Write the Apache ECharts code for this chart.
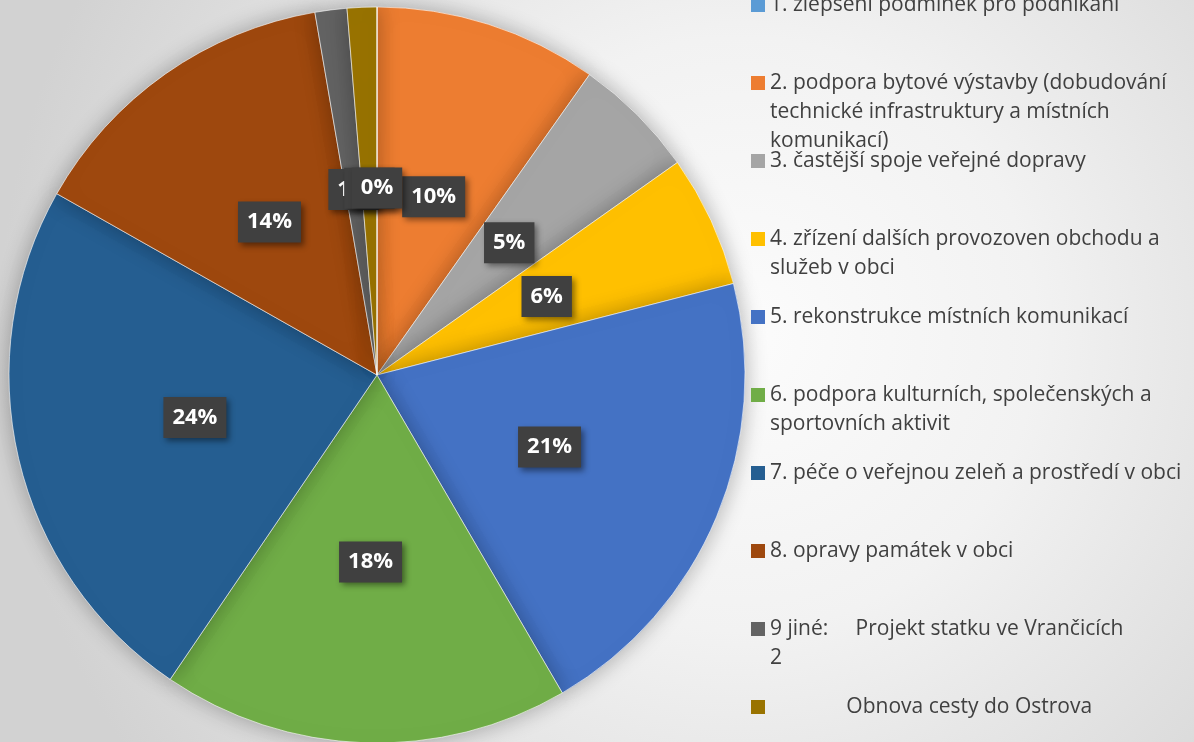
<!DOCTYPE html>
<html>
<head>
<meta charset="utf-8">
<script src="https://cdn.jsdelivr.net/npm/echarts@6/dist/echarts.min.js"></script>
<style>
html, body { margin: 0; padding: 0; }
#chart { width: 1194px; height: 742px; }
</style>
</head>
<body>
<div id="chart"></div>
<script>
// kategorie (poradi v legende)
let categories = [
    '1. zlepšení podmínek pro podnikání',
    '2. podpora bytové výstavby',
    '3. častější spoje veřejné dopravy',
    '4. zřízení dalších provozoven obchodu a služeb v obci',
    '5. rekonstrukce místních komunikací',
    '6. podpora kulturních, společenských a sportovních aktivit',
    '7. péče o veřejnou zeleň a prostředí v obci',
    '8. opravy památek v obci',
    '9 jiné: Projekt statku ve Vrančicích 2',
    'Obnova cesty do Ostrova'
];

// text legendy po radcich
let legendLines = [
    ['1. zlepšení podmínek pro podnikání'],
    ['2. podpora bytové výstavby (dobudování', 'technické infrastruktury a místních', 'komunikací)'],
    ['3. častější spoje veřejné dopravy'],
    ['4. zřízení dalších provozoven obchodu a', 'služeb v obci'],
    ['5. rekonstrukce místních komunikací'],
    ['6. podpora kulturních, společenských a', 'sportovních aktivit'],
    ['7. péče o veřejnou zeleň a prostředí v obci'],
    ['8. opravy památek v obci'],
    ['9 jiné:     Projekt statku ve Vrančicích', '2'],
    ['              Obnova cesty do Ostrova']
];

// podil v %
let values = [0, 9.8, 5.4, 5.8, 20.6, 17.9, 23.7, 14.1, 1.4, 1.3];

let colors = ['#5B9BD5', '#ED7D31', '#A5A5A5', '#FFC000', '#4472C4',
    '#70AD47', '#255E91', '#9E480E', '#636363', '#997300'];

let font = '"Open Sans"';
let lh = 29;

// nulova vysec az na konec, aby jeji popisek byl navrchu
let order = [1, 2, 3, 4, 5, 6, 7, 8, 9, 0];

let legends = categories.map(function (name, i) {
    let lines = legendLines[i];
    let n = lines.length;
    // prazdne radky nahore, aby prvni radek textu byl u ikony
    let padded = [];
    for (let k = 0; k < n - 1; k++) padded.push(' ');
    padded = padded.concat(lines);
    return {
        data: [{ name: name }],
        orient: 'vertical',
        left: 751,
        top: 5 + 78 * i - (2 * n - 1) * lh / 2,
        padding: 0,
        icon: 'rect',
        itemWidth: 14,
        itemHeight: 14,
        itemStyle: { borderWidth: 0 },
        selectedMode: false,
        formatter: function () { return padded.join('\n'); },
        textStyle: {
            fontFamily: font,
            fontSize: 21,
            color: '#404040',
            lineHeight: lh
        }
    };
});

let myChart = echarts.init(document.getElementById('chart'));

let option = {
    backgroundColor: {
        type: 'radial',
        x: 0.62,
        y: 0.45,
        r: 1.0,
        colorStops: [
            { offset: 0, color: '#fcfcfc' },
            { offset: 0.4, color: '#f2f2f2' },
            { offset: 1, color: '#d2d2d2' }
        ]
    },
    animation: false,
    legend: legends,
    series: [
        {
            type: 'pie',
            center: [377, 375],
            radius: 368,
            startAngle: 90,
            clockwise: true,
            minShowLabelAngle: -1,
            labelLayout: { hideOverlap: false },
            data: order.map(function (i) {
                return {
                    name: categories[i],
                    value: values[i],
                    itemStyle: { color: colors[i] }
                };
            }),
            itemStyle: {
                borderColor: 'rgba(255,255,255,0.6)',
                borderWidth: 1,
                shadowBlur: 22,
                shadowColor: 'rgba(0,0,0,0.3)'
            },
            label: {
                position: 'inside',
                formatter: function (p) { return Math.round(p.percent) + '%'; },
                color: '#fff',
                fontFamily: font,
                fontWeight: 'bold',
                fontSize: 22,
                lineHeight: 24,
                backgroundColor: '#404040',
                padding: [9, 9, 8, 9],
                shadowBlur: 6,
                shadowColor: 'rgba(0,0,0,0.45)',
                shadowOffsetX: 3,
                shadowOffsetY: 3
            },
            labelLine: { show: false },
            emphasis: { disabled: true }
        }
    ]
};

myChart.setOption(option);
</script>
</body>
</html>
